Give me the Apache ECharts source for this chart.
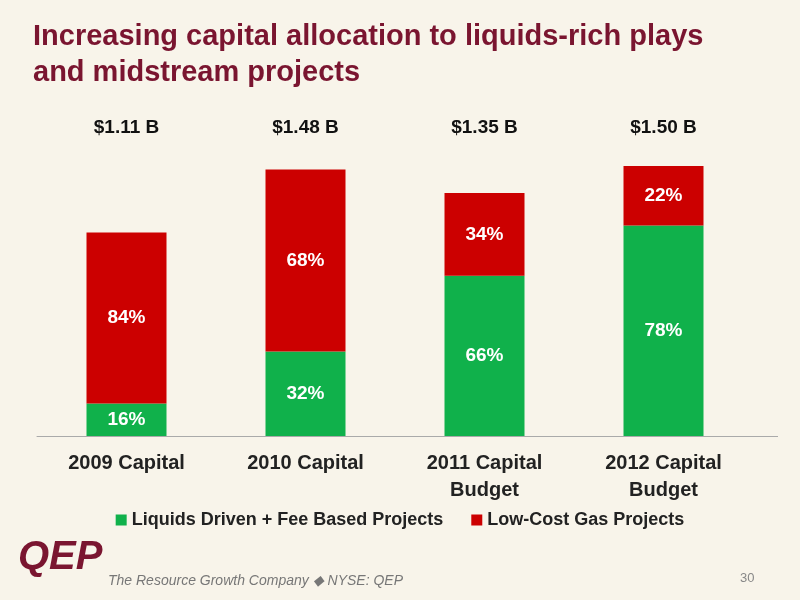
<!DOCTYPE html>
<html>
<head>
<meta charset="utf-8">
<script src="https://cdn.jsdelivr.net/npm/echarts@6/dist/echarts.min.js"></script>
<style>
  body { margin: 0; background: #f8f4ea; }
  #chart { width: 800px; height: 600px; }
</style>
</head>
<body>
<div id="chart"></div>
<script>
var categories = ['2009 Capital', '2010 Capital', '2011 Capital\nBudget', '2012 Capital\nBudget'];
var totals = ['$1.11 B', '$1.48 B', '$1.35 B', '$1.50 B'];
// capital in $B
var liquids = [0.18, 0.47, 0.89, 1.17];
var gas = [0.95, 1.01, 0.46, 0.33];
var liquidsPct = ['16%', '32%', '66%', '78%'];
var gasPct = ['84%', '68%', '34%', '22%'];

var myChart = echarts.init(document.getElementById('chart'));
var font = "'Liberation Sans', Arial, sans-serif";
var option = {
  backgroundColor: '#f8f4ea',
  textStyle: { fontFamily: font },
  title: {
    text: 'Increasing capital allocation to liquids-rich plays\nand midstream projects',
    left: 28, top: 14,
    textStyle: { color: '#7a1530', fontSize: 29, fontWeight: 'bold', lineHeight: 36, fontFamily: font }
  },
  legend: {
    bottom: 66, itemWidth: 11, itemHeight: 11, itemGap: 28,
    icon: 'rect',
    textStyle: { fontSize: 18, fontWeight: 'bold', color: '#222', fontFamily: font },
    data: ['Liquids Driven + Fee Based Projects', 'Low-Cost Gas Projects']
  },
  grid: { left: 37, width: 716, top: 139, bottom: 164 },
  xAxis: [{
    type: 'category', data: categories,
    axisLine: { lineStyle: { color: '#aaa' } },
    axisTick: { show: false },
    axisLabel: { fontSize: 20, fontWeight: 'bold', color: '#222', margin: 14, lineHeight: 27, fontFamily: font }
  }, {
    type: 'category', data: totals, position: 'top',
    axisLine: { show: false }, axisTick: { show: false },
    axisLabel: { fontSize: 19, fontWeight: 'bold', color: '#111', margin: 2, fontFamily: font }
  }],
  yAxis: { type: 'value', min: 0, max: 1.65, show: false },
  series: [{
    name: 'Liquids Driven + Fee Based Projects', type: 'bar', stack: 'a',
    barWidth: 80, data: liquids, itemStyle: { color: '#10b14b' },
    label: { show: true, position: 'inside', color: '#fff', fontSize: 19, fontWeight: 'bold', fontFamily: font,
      formatter: function (p) { return liquidsPct[p.dataIndex]; } }
  }, {
    name: 'Low-Cost Gas Projects', type: 'bar', stack: 'a',
    barWidth: 80, data: gas, itemStyle: { color: '#cc0000' },
    label: { show: true, position: 'inside', color: '#fff', fontSize: 19, fontWeight: 'bold', fontFamily: font,
      formatter: function (p) { return gasPct[p.dataIndex]; } }
  }],
  graphic: [
    { type: 'line', shape: { x1: 37, y1: 436.5, x2: 778, y2: 436.5 }, style: { stroke: '#aaa', lineWidth: 1 } },
    { type: 'text', left: 18, top: 538, style: { text: 'QEP', fontSize: 40, fontWeight: 'bold', fontStyle: 'italic', fill: '#7a1530', fontFamily: font } },
    { type: 'text', left: 108, top: 574, style: { text: 'The Resource Growth Company \u25C6 NYSE: QEP', fontSize: 14, fontStyle: 'italic', fill: '#777', fontFamily: font } },
    { type: 'text', left: 740, top: 572, style: { text: '30', fontSize: 13, fill: '#888', fontFamily: font } }
  ]
};
myChart.setOption(option);
</script>
</body>
</html>
